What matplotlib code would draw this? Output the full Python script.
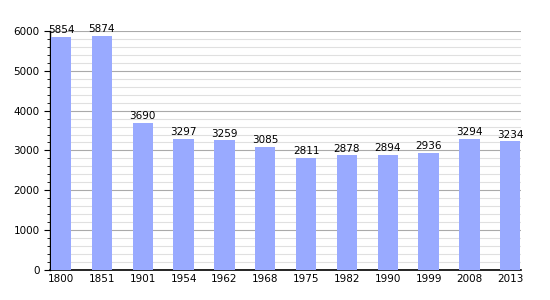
import matplotlib.pyplot as plt
import numpy as np
from matplotlib.ticker import MultipleLocator

years = ['1800', '1851', '1901', '1954', '1962', '1968', '1975', '1982', '1990', '1999', '2008', '2013']
population = [5854, 5874, 3690, 3297, 3259, 3085, 2811, 2878, 2894, 2936, 3294, 3234]

fig = plt.figure(figsize=(5.5, 3), dpi=100)
ax = fig.add_axes([0.091, 0.1, 0.856, 0.797])

x = np.arange(len(years))
ax.bar(x, population, width=0.5, color='#99aaff', zorder=3)
for xi, v in zip(x, population):
    ax.text(xi, v + 40, str(v), ha='center', va='bottom', fontsize=7.5, zorder=4)

ax.set_xlim(-0.27, 11.26)
ax.set_ylim(0, 6000)
ax.set_xticks(x)
ax.set_xticklabels(years, fontsize=7.5)
ax.tick_params(axis='x', length=0, pad=3)
ax.yaxis.set_major_locator(MultipleLocator(1000))
ax.yaxis.set_minor_locator(MultipleLocator(200))
ax.tick_params(axis='y', which='major', labelsize=7.5, length=4, direction='out')
ax.tick_params(axis='y', which='minor', length=2, direction='out')
ax.grid(axis='y', which='major', color='#aaaaaa', linewidth=0.8, zorder=1)
ax.grid(axis='y', which='minor', color='#e0e0e0', linewidth=0.8, zorder=1)
ax.spines['top'].set_visible(False)
ax.spines['right'].set_visible(False)
ax.spines['left'].set_linewidth(1)
ax.spines['bottom'].set_linewidth(1.2)

fig.savefig('out.png', dpi=100)
